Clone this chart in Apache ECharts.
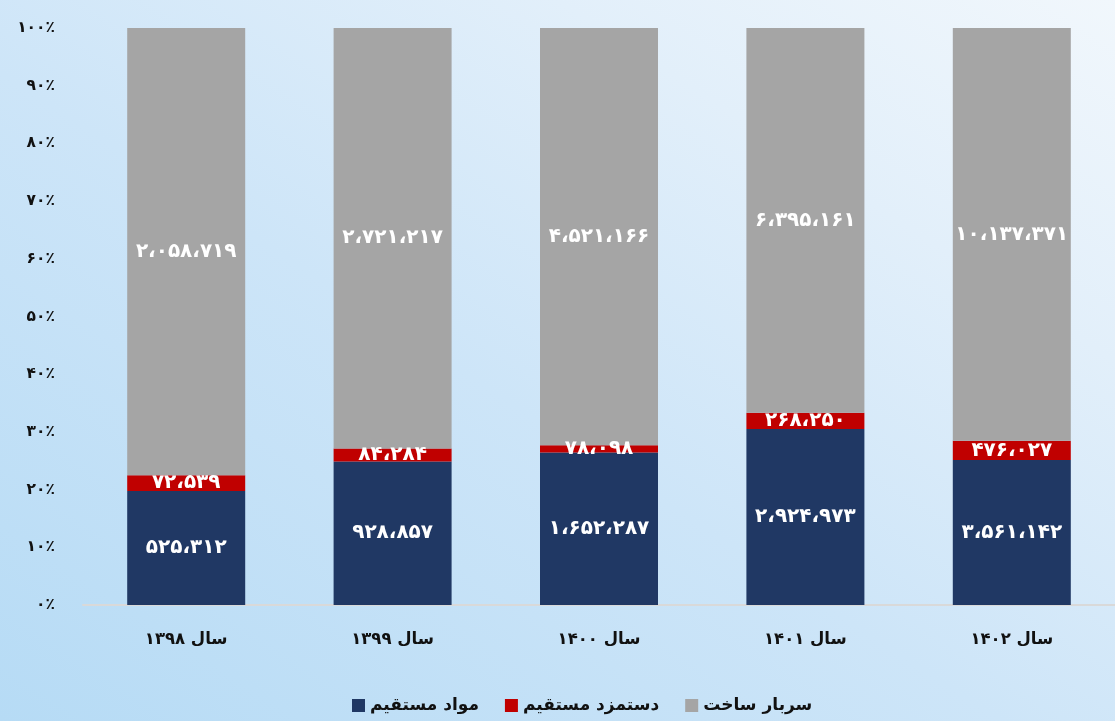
<!DOCTYPE html>
<html>
<head>
<meta charset="utf-8">
<script src="https://cdn.jsdelivr.net/npm/echarts@6/dist/echarts.min.js"></script>
<style>
  html, body { margin: 0; padding: 0; width: 1115px; height: 721px; overflow: hidden; }
  body { background: linear-gradient(to top right, #b6dbf5 0%, #cde5f8 45%, #e2effa 75%, #f1f7fc 100%); }
  #chart { width: 1115px; height: 721px; }
</style>
</head>
<body>
<div id="chart"></div>
<script>
// Cost breakdown by year (raw amounts); bars show each part's share of the yearly total
const years = ['سال ۱۳۹۸', 'سال ۱۳۹۹', 'سال ۱۴۰۰', 'سال ۱۴۰۱', 'سال ۱۴۰۲'];
const seriesNames = ['مواد مستقیم', 'دستمزد مستقیم', 'سربار ساخت'];
const directMaterials = [525312, 928857, 1652287, 2924973, 3561142];
const directLabor = [72539, 84284, 78098, 268250, 476027];
const overhead = [2058719, 2721217, 4521166, 6395161, 10137371];
const yTicks = [0, 10, 20, 30, 40, 50, 60, 70, 80, 90, 100];

const FA_DIGITS = '۰۱۲۳۴۵۶۷۸۹';
function toFa(str) {
  return String(str).replace(/[0-9]/g, d => FA_DIGITS[+d]);
}
function faNumber(n) {
  return toFa(String(n).replace(/\B(?=(\d{3})+(?!\d))/g, '،'));
}

const totals = years.map((_, i) => directMaterials[i] + directLabor[i] + overhead[i]);
function shares(arr) {
  return arr.map((v, i) => ({ value: v / totals[i] * 100, raw: v }));
}

const FONT = 'DejaVu Sans';
const colors = ['#203864', '#c00000', '#a5a5a5'];
const raw = [directMaterials, directLabor, overhead];

const chart = echarts.init(document.getElementById('chart'), null, { renderer: 'canvas' });
chart.setOption({
  backgroundColor: 'transparent',
  animation: false,
  textStyle: { fontFamily: FONT },
  grid: { left: 83, right: -3, top: 28, bottom: 116, containLabel: false },
  legend: {
    data: seriesNames,
    left: 347,
    top: 692,
    itemWidth: 13,
    itemHeight: 13,
    itemGap: 26,
    icon: 'rect',
    textStyle: { fontFamily: FONT, fontSize: 17, fontWeight: 'bold', color: '#111' }
  },
  xAxis: {
    type: 'category',
    data: years,
    axisLine: { show: true, lineStyle: { color: '#d9d9d9', width: 2 } },
    axisTick: { show: false },
    axisLabel: { margin: 26, fontFamily: FONT, fontSize: 16.5, fontWeight: 'bold', color: '#111' }
  },
  yAxis: {
    type: 'value',
    min: 0,
    max: 100,
    interval: 10,
    splitLine: { show: false },
    axisLine: { show: false },
    axisTick: { show: false },
    axisLabel: {
      margin: 28,
      fontFamily: FONT,
      fontSize: 15.5,
      fontWeight: 'bold',
      color: '#111',
      formatter: v => yTicks.includes(v) ? toFa(v) + '٪' : ''
    }
  },
  series: seriesNames.map((name, k) => ({
    name,
    type: 'bar',
    stack: 'total',
    barWidth: 118,
    itemStyle: { color: colors[k] },
    data: shares(raw[k]),
    label: {
      show: true,
      position: 'inside',
      color: '#fff',
      fontFamily: FONT,
      fontSize: 20,
      fontWeight: 'bold',
      formatter: p => faNumber(p.data.raw)
    }
  }))
});
</script>
</body>
</html>
